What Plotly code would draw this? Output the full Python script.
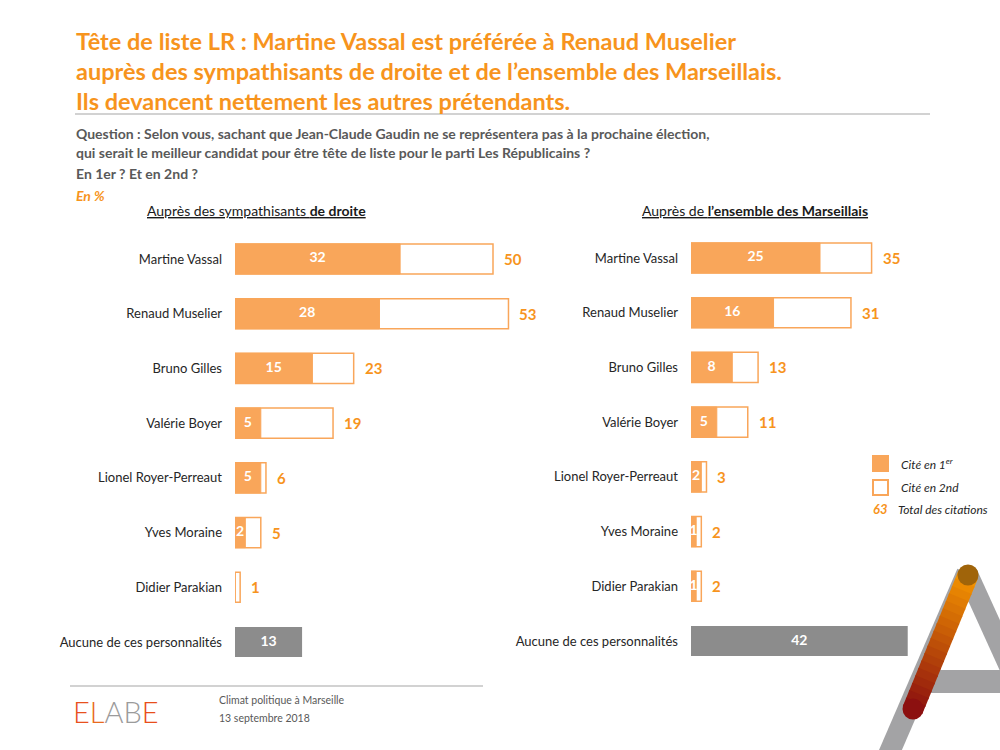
import plotly.graph_objects as go

# ---------------- data ----------------
candidates = ["Martine Vassal", "Renaud Muselier", "Bruno Gilles", "Valérie Boyer",
              "Lionel Royer-Perreaut", "Yves Moraine", "Didier Parakian"]
none_label = "Aucune de ces personnalités"

first_droite = [32, 28, 15, 5, 5, 2, 0]
total_droite = [50, 53, 23, 19, 6, 5, 1]
none_droite = 13

first_all = [25, 16, 8, 5, 2, 1, 1]
total_all = [35, 31, 13, 11, 3, 2, 2]
none_all = 42

# ---------------- style ----------------
FONT = "Lato"
ORANGE_FILL = "#F9A65A"
ORANGE_TXT = "#F7941D"
GRAY_BAR = "#8C8C8C"
W, H = 1000, 750
PX_PER_UNIT = 5.16


def px(x):
    return x / W


def py(y):
    return 1 - y / H


fig = go.Figure()
ypos = list(range(len(candidates)))
none_pos = len(candidates)
labels = candidates + [none_label]


def add_panel(first, total, none_val, xa, ya):
    fig.add_trace(go.Bar(orientation="h", x=total, y=ypos, width=0.55,
                         marker=dict(color="white", line=dict(color=ORANGE_FILL, width=1.5)),
                         xaxis=xa, yaxis=ya, hoverinfo="skip", showlegend=False))
    fig.add_trace(go.Bar(orientation="h", x=first, y=ypos, width=0.55,
                         marker=dict(color=ORANGE_FILL, line=dict(color=ORANGE_FILL, width=1)),
                         xaxis=xa, yaxis=ya, hoverinfo="skip", showlegend=False))
    fig.add_trace(go.Bar(orientation="h", x=[none_val], y=[none_pos], width=0.55,
                         marker=dict(color=GRAY_BAR, line=dict(width=0)),
                         xaxis=xa, yaxis=ya, hoverinfo="skip", showlegend=False))
    # labels inside the filled bars
    fx = [v / 2 for v in first if v > 0] + [none_val / 2]
    fy = [p for v, p in zip(first, ypos) if v > 0] + [none_pos]
    ft = [str(v) for v in first if v > 0] + [str(none_val)]
    fig.add_trace(go.Scatter(x=fx, y=fy, text=ft, mode="text", textposition="middle center",
                             textfont=dict(family=FONT, size=14, color="white", weight="bold"),
                             xaxis=xa, yaxis=ya, hoverinfo="skip", showlegend=False))
    axref = "x" if xa == "x" else "x2"
    ayref = "y" if ya == "y" else "y2"
    for v, p in zip(total, ypos):
        fig.add_annotation(x=v, y=p, xref=axref, yref=ayref, text="<b>%d</b>" % v,
                           showarrow=False, xanchor="left", xshift=9,
                           font=dict(family=FONT, size=15, color=ORANGE_TXT))


add_panel(first_droite, total_droite, none_droite, "x", "y")
add_panel(first_all, total_all, none_all, "x2", "y2")

yaxis_common = dict(range=[none_pos + 0.5, -0.5], tickvals=list(range(none_pos + 1)),
                    ticktext=labels, showgrid=False, zeroline=False, showline=False,
                    ticks="", ticklabelstandoff=12,
                    tickfont=dict(family=FONT, size=13, color="#262626"))
xaxis_common = dict(visible=False, showgrid=False, zeroline=False)

left_range = 60
right_range = 55
fig.update_layout(
    width=W, height=H, margin=dict(l=0, r=0, t=0, b=0),
    paper_bgcolor="white", plot_bgcolor="rgba(0,0,0,0)",
    barmode="overlay", showlegend=False,
    font=dict(family=FONT),
    xaxis=dict(domain=[px(235), px(235 + left_range * PX_PER_UNIT)], range=[0, left_range],
               anchor="y", **xaxis_common),
    yaxis=dict(domain=[py(669.4), py(231.6)], anchor="x", **yaxis_common),
    xaxis2=dict(domain=[px(691), px(691 + right_range * PX_PER_UNIT)], range=[0, right_range],
                anchor="y2", **xaxis_common),
    yaxis2=dict(domain=[py(668.4), py(230.6)], anchor="x2", **yaxis_common),
)

# ---------------- decorative "A" (drawn below texts) ----------------
GRAY_DECO = "#A3A3A5"
fig.add_shape(type="line", xref="paper", yref="paper", x0=px(967), y0=py(573), x1=px(1012),
              y1=py(672), line=dict(color=GRAY_DECO, width=21))
fig.add_shape(type="line", xref="paper", yref="paper", x0=px(967), y0=py(573), x1=px(887),
              y1=py(758), line=dict(color=GRAY_DECO, width=21))
fig.add_shape(type="rect", xref="paper", yref="paper", x0=px(917), x1=px(1000), y0=py(693),
              y1=py(670), fillcolor=GRAY_DECO, line=dict(width=0))
n = 18
x_top, y_top, x_bot, y_bot = 968, 575, 913, 709
c0 = (245, 150, 0)
c1 = (140, 16, 16)
for i in range(n):
    t0, t1 = i / n, (i + 1) / n
    tm = (t0 + t1) / 2
    col = "rgb(%d,%d,%d)" % tuple(int(c0[k] + (c1[k] - c0[k]) * tm) for k in range(3))
    fig.add_shape(type="line", xref="paper", yref="paper",
                  x0=px(x_top + (x_bot - x_top) * t0), y0=py(y_top + (y_bot - y_top) * t0),
                  x1=px(x_top + (x_bot - x_top) * (t1 + 0.01)),
                  y1=py(y_top + (y_bot - y_top) * (t1 + 0.01)),
                  line=dict(color=col, width=21))
fig.add_shape(type="circle", xref="paper", yref="paper", x0=px(957.5), x1=px(978.5),
              y0=py(585.5), y1=py(564.5), fillcolor="rgb(160,100,10)", line=dict(width=0))
fig.add_shape(type="circle", xref="paper", yref="paper", x0=px(902.5), x1=px(923.5),
              y0=py(719.5), y1=py(698.5), fillcolor="rgb(140,16,16)", line=dict(width=0))

# ---------------- texts ----------------
title_lines = ["Tête de liste LR : Martine Vassal est préférée à Renaud Muselier",
               "auprès des sympathisants de droite et de l’ensemble des Marseillais.",
               "Ils devancent nettement les autres prétendants."]
for i, t in enumerate(title_lines):
    fig.add_annotation(x=px(74), y=py(41 + 30 * i), xref="paper", yref="paper",
                       text="<b>%s</b>" % t, showarrow=False, xanchor="left", yanchor="middle",
                       font=dict(family=FONT, size=23.5, color=ORANGE_TXT))

q_lines = ["Question : Selon vous, sachant que Jean-Claude Gaudin ne se représentera pas à la prochaine élection,",
           "qui serait le meilleur candidat pour être tête de liste pour le parti Les Républicains ?"]
for i, t in enumerate(q_lines):
    fig.add_annotation(x=px(74), y=py(133 + 20 * i), xref="paper", yref="paper",
                       text="<b>%s</b>" % t, showarrow=False, xanchor="left", yanchor="middle",
                       font=dict(family=FONT, size=14, color="#595959"))
fig.add_annotation(x=px(74), y=py(173), xref="paper", yref="paper",
                   text="<b>En 1er ? Et en 2nd ?</b>", showarrow=False, xanchor="left",
                   yanchor="middle", font=dict(family=FONT, size=14, color="#595959"))
fig.add_annotation(x=px(74), y=py(196), xref="paper", yref="paper",
                   text="<b><i>En %</i></b>", showarrow=False, xanchor="left",
                   yanchor="middle", font=dict(family=FONT, size=14, color=ORANGE_TXT))

fig.add_annotation(x=px(256), y=py(210), xref="paper", yref="paper",
                   text="<u>Auprès des sympathisants <b>de droite</b></u>", showarrow=False,
                   xanchor="center", yanchor="middle",
                   font=dict(family=FONT, size=14, color="#1a1a1a"))
fig.add_annotation(x=px(755), y=py(210), xref="paper", yref="paper",
                   text="<u>Auprès de <b>l’ensemble des Marseillais</b></u>", showarrow=False,
                   xanchor="center", yanchor="middle",
                   font=dict(family=FONT, size=14, color="#1a1a1a"))

# title rule and footer rule
fig.add_shape(type="line", xref="paper", yref="paper", x0=px(75), x1=px(930),
              y0=py(114), y1=py(114), line=dict(color="#A6A6A6", width=1.2))
fig.add_shape(type="line", xref="paper", yref="paper", x0=px(70), x1=px(483),
              y0=py(686), y1=py(686), line=dict(color="#A6A6A6", width=1.2))

# ---------------- legend ----------------
fig.add_shape(type="rect", xref="paper", yref="paper", x0=px(872), x1=px(889),
              y0=py(472), y1=py(455), fillcolor=ORANGE_FILL, line=dict(width=0))
fig.add_shape(type="rect", xref="paper", yref="paper", x0=px(873), x1=px(888),
              y0=py(495), y1=py(480), fillcolor="white", line=dict(color=ORANGE_FILL, width=2))
fig.add_annotation(x=px(899), y=py(464), xref="paper", yref="paper",
                   text="<i>Cité en 1<sup>er</sup></i>", showarrow=False, xanchor="left",
                   yanchor="middle", font=dict(family=FONT, size=12, color="#262626"))
fig.add_annotation(x=px(899), y=py(488), xref="paper", yref="paper",
                   text="<i>Cité en 2nd</i>", showarrow=False, xanchor="left",
                   yanchor="middle", font=dict(family=FONT, size=12, color="#262626"))
fig.add_annotation(x=px(880), y=py(509), xref="paper", yref="paper",
                   text="<b><i>63</i></b>", showarrow=False, xanchor="center",
                   yanchor="middle", font=dict(family=FONT, size=13, color=ORANGE_TXT))
fig.add_annotation(x=px(896), y=py(509), xref="paper", yref="paper",
                   text="<i>Total des citations</i>", showarrow=False, xanchor="left",
                   yanchor="middle", font=dict(family=FONT, size=12, color="#262626"))

# ---------------- footer ----------------
fig.add_annotation(x=px(217), y=py(700), xref="paper", yref="paper",
                   text="Climat politique à Marseille", showarrow=False, xanchor="left",
                   yanchor="middle", font=dict(family=FONT, size=10.5, color="#595959"))
fig.add_annotation(x=px(217), y=py(718), xref="paper", yref="paper",
                   text="13 septembre 2018", showarrow=False, xanchor="left",
                   yanchor="middle", font=dict(family=FONT, size=10.5, color="#595959"))
fig.add_annotation(x=px(71), y=py(711), xref="paper", yref="paper",
                   text=("<span style='color:#E8501E'>E</span><span style='color:#E86A1E'>L</span>"
                         "<span style='color:#9B9B9B'>A</span><span style='color:#9B9B9B'>B</span>"
                         "<span style='color:#E84E1B'>E</span>"),
                   showarrow=False, xanchor="left", yanchor="middle",
                   font=dict(family=FONT, size=29, weight=300))

fig.write_html("out.html")
